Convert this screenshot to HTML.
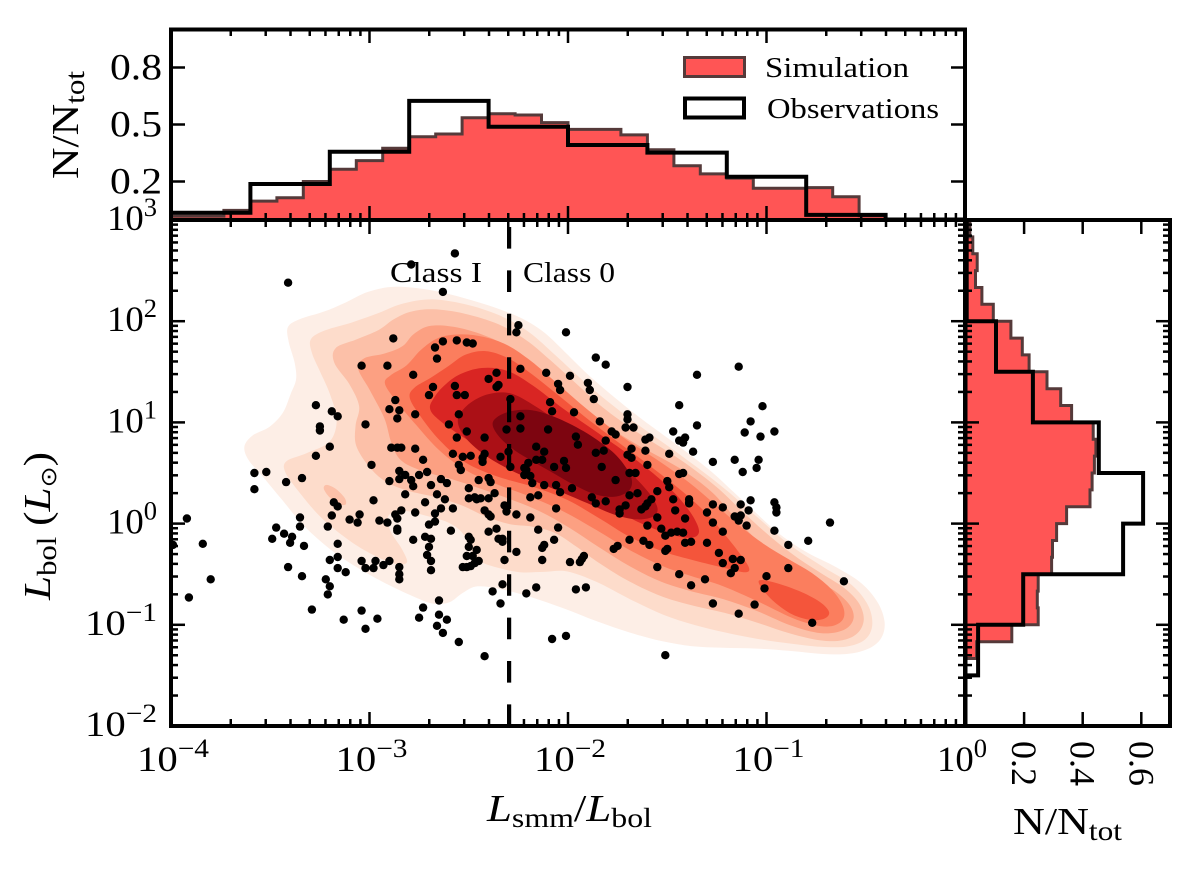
<!DOCTYPE html>
<html lang="en">
<head>
<meta charset="utf-8">
<title>Lsmm/Lbol versus Lbol</title>
<style>
html,body{margin:0;padding:0;background:#fff;}
svg{display:block;}
text{font-family:"Liberation Serif","DejaVu Serif",serif;fill:#000;}
</style>
</head>
<body>
<svg id="chart" xmlns="http://www.w3.org/2000/svg" width="1200" height="871" viewBox="0 0 1200 871">
  <defs>
    <clipPath id="main-clip"><rect x="171" y="220" width="794" height="506"/></clipPath>
    <clipPath id="top-clip"><rect x="171" y="29" width="794" height="191"/></clipPath>
    <clipPath id="right-clip"><rect x="965" y="220" width="205" height="506"/></clipPath>
  </defs>
  <g id="contours" clip-path="url(#main-clip)"></g>
  <line id="class-divider" stroke="#000" stroke-width="4.2" stroke-dasharray="21.6 21.8"/>
  <g id="points" clip-path="url(#main-clip)"></g>
  <g id="top-hist" clip-path="url(#top-clip)"></g>
  <g id="right-hist" clip-path="url(#right-clip)"></g>
  <g id="ticks"></g>
  <rect x="171" y="29.5" width="794" height="190.5" fill="none" stroke="#000" stroke-width="4"/>
  <rect x="171" y="220" width="794" height="506" fill="none" stroke="#000" stroke-width="4"/>
  <rect x="965.5" y="220" width="204.5" height="506" fill="none" stroke="#000" stroke-width="4"/>
  <g id="tick-labels"></g>

  <text x="390" y="282" font-size="29" textLength="92" lengthAdjust="spacingAndGlyphs">Class I</text>
  <text x="523" y="282" font-size="29" textLength="92" lengthAdjust="spacingAndGlyphs">Class 0</text>

  <g>
    <rect x="684.5" y="57.5" width="60" height="19" fill="#ff5555" stroke="#553a3a" stroke-width="3"/>
    <text x="765" y="77" font-size="29" textLength="144" lengthAdjust="spacingAndGlyphs">Simulation</text>
    <rect x="685" y="98.5" width="59" height="19" fill="none" stroke="#000" stroke-width="4"/>
    <text x="767" y="118" font-size="29" textLength="172" lengthAdjust="spacingAndGlyphs">Observations</text>
  </g>

  <text x="569.5" y="821" text-anchor="middle" font-size="38" textLength="165" lengthAdjust="spacingAndGlyphs"><tspan font-style="italic">L</tspan><tspan font-size="27" dy="6">smm</tspan><tspan dy="-6">/</tspan><tspan font-style="italic">L</tspan><tspan font-size="27" dy="6">bol</tspan></text>
  <text transform="translate(50,526) rotate(-90)" text-anchor="middle" font-size="38" textLength="148" lengthAdjust="spacingAndGlyphs"><tspan font-style="italic">L</tspan><tspan font-size="27" dy="6">bol</tspan><tspan dy="-6"> (</tspan><tspan font-style="italic">L</tspan><tspan font-size="22" dy="6" style="font-family:'DejaVu Sans',sans-serif">⊙</tspan><tspan dy="-6">)</tspan></text>
  <text transform="translate(78,125) rotate(-90)" text-anchor="middle" font-size="38" textLength="108" lengthAdjust="spacingAndGlyphs">N/N<tspan font-size="27" dy="6">tot</tspan></text>
  <text x="1067.5" y="834" text-anchor="middle" font-size="38" textLength="109" lengthAdjust="spacingAndGlyphs">N/N<tspan font-size="27" dy="6">tot</tspan></text>
</svg>

<script>
// Density contours (filled KDE levels), vertices as [log10(Lsmm/Lbol), log10(Lbol)]
const contourLevel1 = [[-3.65,.76],[-3.60,.90],[-3.50,.93],[-3.42,1.06],[-3.41,1.32],[-3.35,1.42],[-3.37,1.55],[-3.42,1.85],[-3.42,1.95],[-3.38,2.03],[-3.21,2.08],[-3.13,2.18],[-3.00,2.31],[-2.90,2.36],[-2.70,2.33],[-2.53,2.23],[-2.36,2.14],[-2.21,2.02],[-2.11,1.89],[-2.03,1.72],[-1.89,1.45],[-1.69,1.10],[-1.39,.70],[-1.28,.53],[-1.17,.31],[-1.05,.11],[-.95,-.09],[-.82,-.29],[-.63,-.43],[-.51,-.58],[-.43,-.78],[-.39,-.98],[-.41,-1.15],[-.48,-1.25],[-.58,-1.30],[-.72,-1.30],[-.88,-1.25],[-1.05,-1.23],[-1.22,-1.23],[-1.39,-1.22],[-1.52,-1.17],[-1.69,-1.08],[-1.85,-.98],[-2.03,-.82],[-2.19,-.72],[-2.33,-.65],[-2.48,-.58],[-2.53,-.67],[-2.58,-.82],[-2.70,-.80],[-2.73,-.75],[-2.91,-.62],[-3.05,-.45],[-3.20,-.26],[-3.33,-.06],[-3.45,.27],[-3.55,.50],[-3.62,.63]];
const contourLevel2 = [[-3.45,.62],[-3.33,.70],[-3.16,.76],[-3.15,1.03],[-3.20,1.29],[-3.25,1.52],[-3.30,1.69],[-3.31,1.85],[-3.26,1.90],[-3.06,1.99],[-2.96,2.08],[-2.83,2.18],[-2.70,2.26],[-2.49,2.16],[-2.31,2.05],[-2.19,1.90],[-2.08,1.69],[-1.89,1.35],[-1.72,1.06],[-1.39,.63],[-1.22,.37],[-1.05,.07],[-.88,-.23],[-.72,-.45],[-.54,-.58],[-.48,-.82],[-.45,-1.02],[-.49,-1.17],[-.59,-1.23],[-.72,-1.23],[-.88,-1.18],[-1.05,-1.15],[-1.22,-1.07],[-1.35,-1.01],[-1.52,-.92],[-1.69,-.75],[-1.85,-.57],[-2.04,-.41],[-2.09,-.50],[-2.26,-.50],[-2.36,-.42],[-2.46,-.39],[-2.49,-.29],[-2.52,-.06],[-2.59,.02],[-2.69,.04],[-2.85,.19],[-2.93,.09],[-2.91,-.06],[-2.83,-.26],[-2.78,-.42],[-2.86,-.45],[-3.06,-.23],[-3.25,.01],[-3.37,.37],[-3.44,.53]];
const contourLevel3 = [[-3.21,1.75],[-3.06,1.82],[-2.93,1.89],[-2.90,2.05],[-2.78,2.09],[-2.70,2.15],[-2.53,2.08],[-2.33,1.99],[-2.21,1.82],[-2.09,1.62],[-1.96,1.39],[-1.82,1.13],[-1.69,.93],[-1.39,.60],[-1.25,.37],[-1.12,.11],[-.97,-.16],[-.83,-.36],[-.72,-.51],[-.59,-.63],[-.53,-.78],[-.49,-.95],[-.53,-1.10],[-.61,-1.17],[-.72,-1.17],[-.88,-1.10],[-1.05,-.97],[-1.22,-.87],[-1.35,-.82],[-1.52,-.75],[-1.69,-.58],[-1.85,-.39],[-1.96,-.23],[-2.06,-.06],[-2.19,-.01],[-2.28,-.04],[-2.43,.07],[-2.53,.19],[-2.65,.27],[-2.83,.31],[-2.93,.42],[-3.00,.53],[-3.09,.80],[-3.09,.96],[-3.01,1.16],[-3.10,1.37],[-3.20,1.62]];
const contourLevel3Island = [[-3.25,.37],[-3.22,.40],[-3.17,.36],[-3.11,.24],[-3.11,.17],[-3.15,.18],[-3.20,.24]];
const contourLevel4 = [[-3.09,1.59],[-3.05,1.63],[-2.91,1.69],[-2.81,1.72],[-2.80,1.89],[-2.70,1.99],[-2.56,1.95],[-2.36,1.84],[-2.23,1.67],[-2.09,1.45],[-1.97,1.23],[-1.85,1.03],[-1.70,.80],[-1.39,.53],[-1.28,.34],[-1.17,.07],[-1.02,-.23],[-.88,-.45],[-.75,-.55],[-.64,-.67],[-.56,-.82],[-.55,-.95],[-.59,-1.07],[-.72,-1.12],[-.88,-1.02],[-1.05,-.85],[-1.22,-.73],[-1.39,-.67],[-1.52,-.60],[-1.69,-.43],[-1.85,-.23],[-1.99,-.04],[-2.14,.14],[-2.29,.24],[-2.44,.34],[-2.59,.46],[-2.75,.51],[-2.86,.61],[-2.90,.78],[-2.90,1.03],[-3.00,1.32]];
const contourLevel5 = [[-2.96,1.42],[-2.90,1.47],[-2.80,1.52],[-2.75,1.75],[-2.66,1.85],[-2.54,1.89],[-2.43,1.85],[-2.30,1.79],[-2.19,1.62],[-2.06,1.39],[-1.90,1.13],[-1.75,.86],[-1.54,.63],[-1.39,.42],[-1.25,.17],[-1.13,-.03],[-1.02,-.21],[-.88,-.36],[-.78,-.47],[-.65,-.65],[-.60,-.85],[-.60,-.97],[-.68,-1.05],[-.83,-1.00],[-1.05,-.75],[-1.22,-.60],[-1.39,-.52],[-1.52,-.43],[-1.69,-.28],[-1.85,-.06],[-2.03,.14],[-2.19,.27],[-2.36,.39],[-2.53,.51],[-2.65,.71],[-2.77,.98],[-2.87,1.23]];
const contourLevel6 = [[-2.83,1.29],[-2.78,1.32],[-2.70,1.45],[-2.58,1.55],[-2.54,1.69],[-2.41,1.74],[-2.30,1.65],[-2.19,1.49],[-2.06,1.29],[-1.92,1.06],[-1.79,.86],[-1.60,.60],[-1.39,.27],[-1.30,.11],[-1.22,-.09],[-1.13,-.29],[-1.07,-.48],[-1.08,-.51],[-1.23,-.42],[-1.39,-.36],[-1.52,-.28],[-1.69,-.16],[-1.85,.07],[-1.99,.24],[-2.19,.39],[-2.36,.45],[-2.53,.58],[-2.65,.81],[-2.75,1.08]];
const contourLevel6Tail = [[-1.07,-.52],[-.97,-.58],[-.83,-.65],[-.72,-.78],[-.66,-.88],[-.70,-.95],[-.77,-.97],[-.87,-.92],[-.97,-.78],[-1.03,-.62]];
const contourLevel7 = [[-2.71,1.13],[-2.68,1.23],[-2.65,1.32],[-2.56,1.50],[-2.44,1.55],[-2.30,1.55],[-2.19,1.39],[-2.03,1.13],[-1.85,.90],[-1.65,.63],[-1.54,.45],[-1.44,.27],[-1.36,.06],[-1.32,-.11],[-1.36,-.17],[-1.49,-.11],[-1.64,-.01],[-1.79,.17],[-1.91,.29],[-2.09,.43],[-2.29,.61],[-2.44,.73],[-2.59,.93],[-2.68,1.07]];
const contourLevel8 = [[-2.58,1.03],[-2.53,1.16],[-2.41,1.29],[-2.30,1.35],[-2.16,1.16],[-2.03,.96],[-1.85,.76],[-1.69,.53],[-1.59,.31],[-1.53,.14],[-1.55,.06],[-1.65,.02],[-1.77,.07],[-1.90,.21],[-2.03,.31],[-2.19,.43],[-2.31,.55],[-2.44,.68],[-2.53,.86]];
const contourLevel9 = [[-2.40,1.00],[-2.36,1.06],[-2.28,1.13],[-2.18,1.14],[-2.06,1.06],[-1.90,.90],[-1.75,.70],[-1.71,.55],[-1.66,.41],[-1.68,.31],[-1.77,.24],[-1.85,.27],[-1.97,.37],[-2.07,.50],[-2.19,.63],[-2.26,.70],[-2.36,.86]];
const contourSeries = [contourLevel1, contourLevel2, contourLevel3, contourLevel3Island, contourLevel4, contourLevel5, contourLevel6, contourLevel6Tail, contourLevel7, contourLevel8, contourLevel9];
const contourFills = ['#fdeee6','#fddccb','#fcc0a8','#fcc0a8','#fca082','#fb7e5e','#f4553b','#f4553b','#d92523','#ab1016','#7d0510'];

// Observed protostars as [log10(Lsmm/Lbol), log10(Lbol)]
const protostarPoints = [[-3.41,2.38],[-2.88,1.83],[-2.67,1.74],[-2.66,1.63],[-3.04,1.56],[-2.91,1.56],[-2.78,1.47],[-2.68,1.35],[-2.70,1.27],[-2.87,1.22],[-3.27,1.17],[-3.19,1.11],[-3.16,1.06],[-2.90,1.13],[-2.85,1.12],[-2.77,1.08],[-2.86,1.04],[-3.02,.98],[-3.25,.96],[-3.25,.92],[-3.20,.76],[-2.89,.75],[-2.86,.75],[-2.84,.75],[-2.77,.74],[-3.27,.67],[-2.73,.63],[-2.99,.58],[-2.79,2.56],[-2.57,2.67],[-2.63,2.29],[-2.25,1.96],[-2.26,1.89],[-2.01,1.89],[-2.63,1.80],[-2.56,1.81],[-2.51,1.79],[-2.48,1.78],[-1.86,1.64],[-1.81,1.57],[-1.35,1.47],[-2.24,1.53],[-2.36,1.49],[-2.40,1.43],[-2.11,1.49],[-1.99,1.46],[-2.05,1.38],[-2.04,1.32],[-1.90,1.39],[-1.89,1.32],[-1.70,1.35],[-2.35,1.37],[-2.36,1.35],[-2.57,1.36],[-2.56,1.27],[-2.52,1.27],[-2.29,1.23],[-2.09,1.20],[-1.87,1.23],[-1.44,1.17],[-2.55,1.08],[-2.08,1.11],[-1.97,1.10],[-1.70,1.08],[-1.70,1.03],[-2.24,1.06],[-2.60,.98],[-1.84,1.01],[-1.35,.97],[-1.71,.95],[-1.67,.95],[-2.31,.93],[-2.24,.94],[-2.10,.93],[-2.51,.91],[-1.78,.91],[-1.76,.88],[-1.47,.91],[-1.96,.86],[-2.56,.85],[-2.42,.85],[-1.59,.85],[-1.61,.83],[-1.41,.85],[-1.44,.82],[-1.42,.80],[-1.37,.71],[-1.81,.82],[-1.95,.78],[-2.16,.76],[-2.12,.71],[-1.68,.74],[-1.61,.72],[-1.49,.69],[-2.58,.69],[-2.53,.66],[-2.49,.67],[-2.42,.69],[-2.43,.65],[-2.43,.61],[-2.34,.66],[-2.30,.71],[-1.86,.70],[-1.82,.72],[-1.70,.68],[-1.68,.65],[-1.60,.58],[-2.20,.60],[-2.16,.63],[-2.13,.63],[-2.02,.62],[-2.07,.56],[-2.01,.55],[-2.22,.55],[-1.83,.56],[-2.55,.58],[-2.29,.56],
[-1.14,1.55],[-1.02,1.16],[-1.08,1.01],[-1.11,.90],[-.96,.91],[-1.03,.86],[-1.27,.61],[-1.16,.63],[-1.04,.63],[-1.05,.55],[-1.12,.51],[-1.08,.23],[-1.13,.19],[-1.27,.19],[-1.22,.16],[-.96,.21],[-.95,.16],[-.95,.11],[-1.39,.21],[-1.09,.13],[-1.30,.11],[-1.16,.07],[-1.13,.08],[-1.14,.03],[-1.27,.01],[-1.10,-.02],[-.68,.01],[-1.22,-.08],[-.96,-.07],[-.79,-.17],[-.89,-.21],[-1.30,-.19],[-1.38,-.18],[-1.24,-.29],[-.89,-.44],[-1.22,-.39],[-1.17,-.35],[-1.13,-.36],[-1.16,-.44],[-1.18,-.49],[-1.31,-.55],[-1.00,-.52],[-1.01,-.64],[-.61,-.57],[-1.38,-.61],[-1.27,-.79],[-1.06,-.80],[-1.14,-.89],[-.77,-.98],
[-3.58,.50],[-3.52,.51],[-3.42,.41],[-3.34,.45],[-3.58,.34],[-2.85,.52],[-2.82,.48],[-2.85,.44],[-2.90,.42],[-2.75,.48],[-2.71,.51],[-2.79,.43],[-2.78,.37],[-2.69,.38],[-2.82,.29],[-2.66,.29],[-2.72,.21],[-2.98,.23],[-3.18,.21],[-3.16,.17],[-3.19,.08],[-3.05,.09],[-3.10,.04],[-3.06,.01],[-2.84,.13],[-2.87,.09],[-2.86,.05],[-2.77,.11],[-2.95,.03],[-2.91,.01],[-3.35,.06],[-3.35,-.03],[-3.92,.05],[-3.21,-.03],[-3.47,-.04],[-3.43,-.10],[-3.39,-.13],[-3.49,-.15],[-3.40,-.19],[-3.33,-.22],[-3.84,-.20],[-3.99,-.21],[-3.16,-.20],[-2.86,-.05],[-2.86,-.07],[-2.78,-.16],[-2.72,-.13],[-2.69,-.15],[-2.70,-.23],[-2.71,-.31],[-2.69,-.37],[-2.67,.10],[-2.67,.02],[-2.70,-.01],[-3.20,-.36],[-3.16,-.33],[-3.16,-.44],[-3.12,-.48],[-3.04,-.37],[-3.02,-.44],[-2.97,-.37],[-2.98,-.44],[-2.93,-.41],[-2.90,-.37],[-2.85,-.43],[-2.85,-.50],[-2.85,-.55],[-2.69,-.46],[-3.41,-.43],[-3.34,-.52],[-3.80,-.55],[-3.22,-.55],[-3.20,-.62],[-3.21,-.70],[-3.91,-.73],[-3.29,-.85],[-3.04,-.86],[-2.73,-.83],[-2.75,-.93],[-3.13,-.95],[-2.96,-.94],[-3.02,-1.04],[-2.65,-.76],[-2.65,-.90],[-2.66,-1.01],
[-2.54,.53],[-2.21,.53],[-2.22,.48],[-2.19,.47],[-1.69,.50],[-1.66,.50],[-1.44,.49],[-1.42,.50],[-2.64,.44],[-2.61,.40],[-2.45,.43],[-2.40,.45],[-2.39,.41],[-2.18,.40],[-2.12,.38],[-2.06,.38],[-1.76,.43],[-1.50,.42],[-1.49,.36],[-2.50,.35],[-1.98,.35],[-1.55,.32],[-2.37,.30],[-2.04,.31],[-1.65,.30],[-1.69,.28],[-2.15,.28],[-2.19,.26],[-1.88,.26],[-2.50,.25],[-2.47,.26],[-2.46,.24],[-2.44,.25],[-2.40,.25],[-2.62,.24],[-1.47,.24],[-1.39,.24],[-1.39,.20],[-1.86,.20],[-1.81,.22],[-1.58,.24],[-1.60,.20],[-1.61,.17],[-1.63,.14],[-1.71,.18],[-2.32,.18],[-2.64,.15],[-2.58,.15],[-2.42,.13],[-2.06,.15],[-2.31,.12],[-1.46,.13],[-1.74,.14],[-1.74,.10],[-2.40,.09],[-2.39,.07],[-2.26,.09],[-2.19,.06],[-1.55,.06],[-1.41,.05],[-1.60,-.02],[-2.05,-.04],[-1.53,-.05],[-2.15,-.06],[-2.36,-.05],[-2.40,-.08],[-2.59,-.07],[-1.42,-.09],[-1.45,-.08],[-1.48,-.09],[-1.51,-.12],[-2.50,-.13],[-2.49,-.16],[-2.33,-.15],[-2.35,-.15],[-2.33,-.18],[-2.07,-.16],[-1.69,-.16],[-1.62,-.17],[-1.59,-.21],[-1.41,-.19],[-2.12,-.21],[-2.13,-.24],[-1.75,-.22],[-1.77,-.25],[-1.50,-.25],[-1.51,-.27],[-2.50,-.23],[-2.46,-.26],[-2.26,-.28],[-2.51,-.32],[-2.48,-.32],[-1.92,-.32],[-1.93,-.35],[-1.94,-.38],[-1.99,-.38],[-2.13,-.36],[-2.32,-.36],[-2.45,-.37],[-2.47,-.39],[-2.49,-.42],[-2.51,-.43],[-2.53,-.43],[-1.55,-.43],[-1.44,-.50],[-2.33,-.60],[-2.38,-.67],[-2.21,-.69],[-2.16,-.63],[-1.96,-.65],[-1.91,-.63],[-2.34,-.79],[-2.61,-.95],[-2.63,-1.08],[-2.55,-1.17],[-2.08,-1.14],[-2.01,-1.11],[-2.42,-1.31],[-1.51,-1.30]];

// Class 0 / Class I boundary
const classBoundary = 0.00505;

// Top histogram: 30 simulation bins and 10 observation bins across log x from -4 to 0
const simTopFractions = [.018,.018,.048,.097,.115,.2,.265,.31,.375,.436,.45,.536,.557,.55,.51,.474,.474,.445,.367,.283,.24,.218,.164,.164,.168,.12,.02,0,0,0];
const obsTopFractions = [.036,.187,.357,.624,.488,.392,.352,.225,.024,0];

// Right histogram: bins from low to high Lbol across log y from -2 to 3
const simRightFractions = [0,0,0,0,.038,.158,.248,.245,.248,.294,.297,.311,.345,.425,.432,.44,.445,.436,.362,.325,.278,.217,.194,.155,.095,.056,.034,.04,.025,.015];
const obsRightFractions = [0,.043,.197,.538,.606,.455,.23,.104,.004,.004];

// Tick values and labels
const xTickExponents = [-4,-3,-2,-1,0];
const yTickExponents = [-2,-1,0,1,2,3];
const topFractionTicks = ['0.2','0.5','0.8'];
const rightFractionTicks = ['0.2','0.4','0.6'];

// Axis functions
const xMain = lx => 171 + (lx + 4) * 198.5;
const yMain = ly => 726 - (ly + 2) * 101.2;
const yTop = v => 219.5 - v * 190;
const xRight = v => 965.5 + v * 293;

const SVGNS = 'http://www.w3.org/2000/svg';

function relax(pts) {
  const n = pts.length;
  return pts.map((p, i) => {
    const a = pts[(i - 1 + n) % n], b = pts[(i + 1) % n];
    return [0.25 * a[0] + 0.5 * p[0] + 0.25 * b[0], 0.25 * a[1] + 0.5 * p[1] + 0.25 * b[1]];
  });
}
function smoothClosedPath(raw) {
  const pts = relax(raw);
  const n = pts.length;
  let d = 'M' + pts[0][0].toFixed(1) + ' ' + pts[0][1].toFixed(1);
  for (let i = 0; i < n; i++) {
    const p0 = pts[(i - 1 + n) % n], p1 = pts[i], p2 = pts[(i + 1) % n], p3 = pts[(i + 2) % n];
    const c1x = p1[0] + (p2[0] - p0[0]) / 6, c1y = p1[1] + (p2[1] - p0[1]) / 6;
    const c2x = p2[0] - (p3[0] - p1[0]) / 6, c2y = p2[1] - (p3[1] - p1[1]) / 6;
    d += 'C' + c1x.toFixed(1) + ' ' + c1y.toFixed(1) + ' ' + c2x.toFixed(1) + ' ' + c2y.toFixed(1) + ' ' + p2[0].toFixed(1) + ' ' + p2[1].toFixed(1);
  }
  return d + 'Z';
}

// Contours
const contourGroup = document.getElementById('contours');
contourSeries.forEach((poly, i) => {
  const el = document.createElementNS(SVGNS, 'path');
  
  
  el.setAttribute('d', smoothClosedPath(poly.map(p => [xMain(p[0]), yMain(p[1])])));
  el.setAttribute('fill', contourFills[i]);
  contourGroup.appendChild(el);
});

// Boundary line: dashes begin at the bottom axis
const divider = document.getElementById('class-divider');
divider.setAttribute('x1', xMain(Math.log10(classBoundary)));
divider.setAttribute('x2', xMain(Math.log10(classBoundary)));
divider.setAttribute('y1', yMain(-2));
divider.setAttribute('y2', yMain(3));

// Points
const pointGroup = document.getElementById('points');
protostarPoints.forEach(p => {
  const el = document.createElementNS(SVGNS, 'circle');
  
  
  el.setAttribute('cx', xMain(p[0]).toFixed(1));
  el.setAttribute('cy', yMain(p[1]).toFixed(1));
  el.setAttribute('r', 4.2);
  el.setAttribute('fill', '#000');
  pointGroup.appendChild(el);
});

// Histograms
function topStepPath(values) {
  const w = 4 / values.length;
  let d = 'M' + xMain(-4) + ' ' + yTop(0);
  values.forEach((v, i) => {
    d += 'L' + xMain(-4 + i * w).toFixed(1) + ' ' + yTop(v).toFixed(1);
    d += 'L' + xMain(-4 + (i + 1) * w).toFixed(1) + ' ' + yTop(v).toFixed(1);
  });
  return d + 'L' + xMain(0) + ' ' + yTop(0);
}
function rightStepPath(values) {
  const h = 5 / values.length;
  let d = 'M' + xRight(0) + ' ' + yMain(-2);
  values.forEach((v, i) => {
    d += 'L' + xRight(v).toFixed(1) + ' ' + yMain(-2 + i * h).toFixed(1);
    d += 'L' + xRight(v).toFixed(1) + ' ' + yMain(-2 + (i + 1) * h).toFixed(1);
  });
  return d + 'L' + xRight(0) + ' ' + yMain(3);
}
const topHist = document.getElementById('top-hist');
const rightHist = document.getElementById('right-hist');

const topSim = document.createElementNS(SVGNS, 'path');


topSim.setAttribute('d', topStepPath(simTopFractions));
topSim.setAttribute('fill', '#ff5555');
topSim.setAttribute('stroke', '#553a3a');
topSim.setAttribute('stroke-width', '3');
topHist.appendChild(topSim);

const topObs = document.createElementNS(SVGNS, 'path');


topObs.setAttribute('d', topStepPath(obsTopFractions));
topObs.setAttribute('fill', 'none');
topObs.setAttribute('stroke', '#000');
topObs.setAttribute('stroke-width', '4');
topHist.appendChild(topObs);

const rightSim = document.createElementNS(SVGNS, 'path');


rightSim.setAttribute('d', rightStepPath(simRightFractions));
rightSim.setAttribute('fill', '#ff5555');
rightSim.setAttribute('stroke', '#553a3a');
rightSim.setAttribute('stroke-width', '3');
rightHist.appendChild(rightSim);

const rightObs = document.createElementNS(SVGNS, 'path');


rightObs.setAttribute('d', rightStepPath(obsRightFractions));
rightObs.setAttribute('fill', 'none');
rightObs.setAttribute('stroke', '#000');
rightObs.setAttribute('stroke-width', '4');
rightHist.appendChild(rightObs);

// Ticks
const tickGroup = document.getElementById('ticks');
function addTick(x1, y1, x2, y2) {
  const el = document.createElementNS(SVGNS, 'line');
  
  
  el.setAttribute('x1', x1);
  el.setAttribute('y1', y1);
  el.setAttribute('x2', x2);
  el.setAttribute('y2', y2);
  el.setAttribute('stroke', '#000');
  el.setAttribute('stroke-width', '2.5');
  tickGroup.appendChild(el);
}
const MAJOR = 14, MINOR = 7;
function addXTicks(px, len) {
  [[29, 1], [220, -1], [220, 1], [726, -1]].forEach(s => addTick(px, s[0], px, s[0] + s[1] * len));
}
function addYTicks(py, len) {
  [[171, 1], [965, -1], [965, 1], [1170, -1]].forEach(s => addTick(s[0], py, s[0] + s[1] * len, py));
}
xTickExponents.forEach(e => {
  addXTicks(xMain(e), MAJOR);
  if (e < 0) for (let m = 2; m < 10; m++) addXTicks(xMain(e + Math.log10(m)), MINOR);
});
yTickExponents.forEach(e => {
  addYTicks(yMain(e), MAJOR);
  if (e < 3) for (let m = 2; m < 10; m++) addYTicks(yMain(e + Math.log10(m)), MINOR);
});
topFractionTicks.forEach(t => {
  addTick(171, yTop(+t), 171 + MAJOR, yTop(+t));
  addTick(965, yTop(+t), 965 - MAJOR, yTop(+t));
});
rightFractionTicks.forEach(t => {
  addTick(xRight(+t), 220, xRight(+t), 220 + MAJOR);
  addTick(xRight(+t), 726, xRight(+t), 726 - MAJOR);
});

// Tick labels
const labelGroup = document.getElementById('tick-labels');
function powerText(el, exp) {
  const base = document.createElementNS(SVGNS, 'tspan');
  base.textContent = '10';
  const sup = document.createElementNS(SVGNS, 'tspan');
  sup.setAttribute('dy', '-14');
  sup.setAttribute('font-size', '26');
  sup.textContent = String(exp).replace('-', '\u2212');
  el.appendChild(base);
  el.appendChild(sup);
  el.setAttribute('textLength', exp < 0 ? 72 : 50);
  el.setAttribute('lengthAdjust', 'spacingAndGlyphs');
}
xTickExponents.forEach(e => {
  const el = document.createElementNS(SVGNS, 'text');
  
  
  el.setAttribute('x', xMain(e) + (e < 0 ? 2 : -3));
  el.setAttribute('y', 771);
  el.setAttribute('text-anchor', 'middle');
  el.setAttribute('font-size', '36');
  powerText(el, e);
  labelGroup.appendChild(el);
});
yTickExponents.forEach(e => {
  const el = document.createElementNS(SVGNS, 'text');
  
  
  el.setAttribute('x', 157);
  el.setAttribute('y', yMain(e) + 10);
  el.setAttribute('text-anchor', 'end');
  el.setAttribute('font-size', '36');
  powerText(el, e);
  labelGroup.appendChild(el);
});
topFractionTicks.forEach(t => {
  const el = document.createElementNS(SVGNS, 'text');
  
  
  el.setAttribute('x', 162);
  el.setAttribute('y', yTop(+t) + 12);
  el.setAttribute('text-anchor', 'end');
  el.setAttribute('font-size', '37');
  el.setAttribute('textLength', '52');
  el.setAttribute('lengthAdjust', 'spacingAndGlyphs');
  el.textContent = t;
  labelGroup.appendChild(el);
});
rightFractionTicks.forEach(t => {
  const el = document.createElementNS(SVGNS, 'text');
  
  
  el.setAttribute('transform', 'translate(' + (xRight(+t) - 12) + ',741) rotate(90)');
  el.setAttribute('font-size', '36');
  el.textContent = t;
  labelGroup.appendChild(el);
});
</script>
</body>
</html>
